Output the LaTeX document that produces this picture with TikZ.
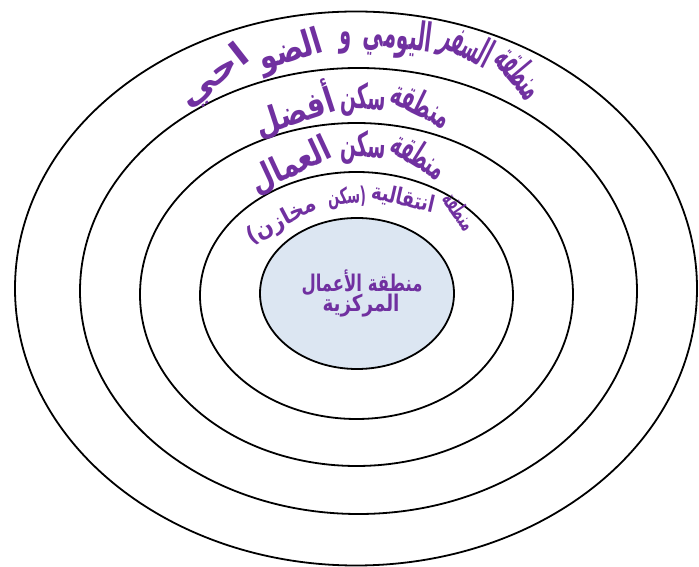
\documentclass[tikz,border=0pt]{standalone}
\usepackage{fontspec}
\newfontfamily\arabicfont[Script=Arabic]{DejaVu Sans}
\newfontfamily\parfont{DejaVu Sans}
\TeXXeTstate=1
\definecolor{zonepurple}{RGB}{112,48,160}
\definecolor{corefill}{RGB}{220,230,242}
\tikzset{
  ring/.style={draw=black, line width=1.8pt},
  arw/.style={text=zonepurple, font=\arabicfont\bfseries\fontsize{#1}{#1}\selectfont, inner sep=0pt}
}
\begin{document}
\begin{tikzpicture}[x=1pt,y=1pt]
\useasboundingbox (0,0) rectangle (699,567);
\fill[white] (0,0) rectangle (699,567);
\draw[ring] (356,278.5) ellipse [x radius=341, y radius=277];
\draw[ring] (358.5,276) ellipse [x radius=278.5, y radius=223];
\draw[ring] (356.5,272.5) ellipse [x radius=216.5, y radius=171.5];
\draw[ring] (356.5,271.5) ellipse [x radius=156.5, y radius=123.5];
\draw[ring, fill=corefill] (357,273.5) ellipse [x radius=97, y radius=75.5];
% ring 1 text
\node[arw=40, rotate=-50] (t1a) at (521,495) {\resizebox{54pt}{\height}{\beginR منطقة\endR}};
\node[arw=40, rotate=-27] (t1b) at (466,519) {\resizebox{52pt}{\height}{\beginR السفر\endR}};
\node[arw=40, rotate=-7] (t1c) at (398,529) {\resizebox{68pt}{\height}{\beginR اليومي\endR}};
\node[arw=40, rotate=-2] (t1d) at (346,524) {\resizebox{12pt}{\height}{\beginR و\endR}};
\node[arw=36, rotate=17] (t1e) at (291,515) {\resizebox{66pt}{\height}{\beginR الضو\endR}};
\node[arw=34, rotate=38] (t1f) at (215,490) {\resizebox{80pt}{\height}{\beginR احي\endR}};
% ring 2 text
\node[arw=35, rotate=-26] (t2a) at (422,463) {\resizebox{62pt}{\height}{\beginR منطقة\endR}};
\node[arw=35, rotate=-3] (t2b) at (363,467) {\resizebox{45pt}{\height}{\beginR سكن\endR}};
\node[arw=35, rotate=18] (t2c) at (294,457) {\resizebox{82pt}{\height}{\beginR أفضل\endR}};
% ring 3 text
\node[arw=35, rotate=-32] (t3a) at (420,412) {\resizebox{58pt}{\height}{\beginR منطقة\endR}};
\node[arw=35, rotate=-3] (t3b) at (363,419) {\resizebox{45pt}{\height}{\beginR سكن\endR}};
\node[arw=35, rotate=25] (t3c) at (291,401) {\resizebox{86pt}{\height}{\beginR العمال\endR}};
% ring 4 text
\node[arw=23, rotate=-56] (t4a) at (460,356) {\resizebox{40pt}{\height}{\beginR منطقة\endR}};
\node[arw=23, rotate=-13] (t4b) at (403,368) {\resizebox{64pt}{\height}{\beginR انتقالية\endR}};
\node[arw=23, rotate=3] (t4c) at (347,369) {\resizebox{38pt}{\height}{\beginR سكن\endR{\parfont)}}};
\node[arw=23, rotate=28] (t4d) at (282,346) {\resizebox{76pt}{\height}{{\parfont(}\beginR مخازن\endR}};
% core text
\node[arw=23] (c1) at (362,284) {\resizebox{121pt}{\height}{\beginR منطقة الأعمال\endR}};
\node[arw=23] (c2) at (361,261) {\resizebox{77pt}{\height}{\beginR المركزية\endR}};
\end{tikzpicture}
\end{document}
